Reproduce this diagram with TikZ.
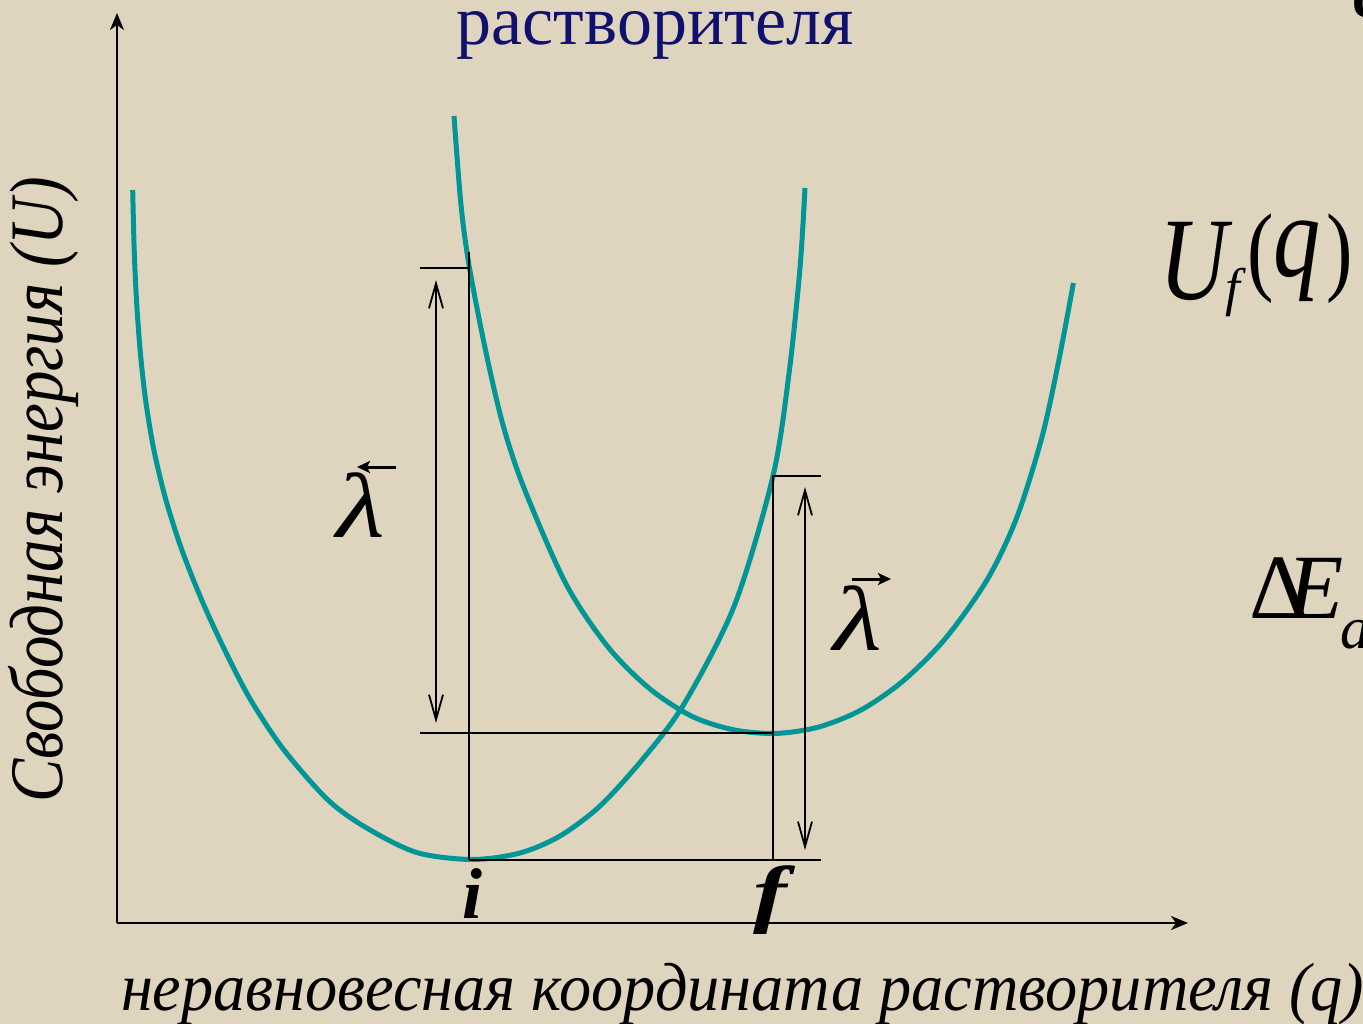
\documentclass[tikz,border=0pt]{standalone}
\usepackage{fontspec}
\setmainfont{Liberation Serif}
\usetikzlibrary{arrows.meta}
\definecolor{bgc}{RGB}{223,213,191}
\definecolor{tealc}{RGB}{0,150,150}
\definecolor{navyc}{RGB}{16,16,110}
\tikzset{
  curve/.style={tealc, line width=5pt},
  guide/.style={black, line width=1.8pt},
  axisarrow/.style={black, line width=2pt, -{Stealth[length=17pt,width=14pt,inset=5pt]}},
  dimarrow/.style={black, line width=1.8pt, {Straight Barb[length=25pt,width=14pt]}-{Straight Barb[length=25pt,width=14pt]}},
  lamarrow/.style={black, line width=3pt, -{Stealth[length=13pt,width=12pt,inset=3pt]}},
  lbl/.style={inner sep=0pt, outer sep=0pt},
}
\begin{document}
\begin{tikzpicture}[x=1pt,y=-1pt]
\fill[bgc] (0,0) rectangle (1363,1024);
\useasboundingbox (0,0) rectangle (1363,1024);

% axes
\coordinate (O) at (117,923);
\coordinate (ytip) at (117,13);
\coordinate (xtip) at (1188,923);
\draw[axisarrow] (O) -- (ytip);
\draw[axisarrow] (O) -- (xtip);

% curves
\draw[curve] plot[smooth, tension=0.5] coordinates {
 (132.7,190) (134.2,250) (136.5,300) (140.1,350) (145.6,400) (153.9,450)
 (165.9,500) (181.9,550) (201.7,600) (224.7,650) (250.7,700) (284,750)
 (328,800) (366.7,828) (416.7,852.5) (472,859.5) (520,853) (560,836)
 (600,806) (642,760) (684,704) (734.6,605) (773,476) (789,373.6)
 (800,268) (805,188)};
\draw[curve] plot[smooth, tension=0.5] coordinates {
 (454,116) (461,205) (469.5,268) (486,352.5) (503,425) (524,488) (566,584)
 (608,647) (650,689) (692.5,716.6) (734.6,730) (776.7,733.4) (818.8,727)
 (861,710) (903,681) (945,639) (987,580) (1016.6,518) (1042,437)
 (1058.7,361) (1073.4,283)};

% guide lines
\coordinate (iTop) at (469,252);
\coordinate (iBot) at (469,860);
\coordinate (tickL) at (420,268);
\coordinate (tickLr) at (469,268);
\coordinate (midL) at (420,733);
\coordinate (fMid) at (773,733);
\coordinate (fTop) at (773,476);
\coordinate (tickR) at (821,476);
\coordinate (botR) at (821,860);
\coordinate (fBot) at (773,860);
\draw[guide] (iTop) -- (iBot);
\draw[guide] (tickL) -- (tickLr);
\draw[guide] (midL) -- (fMid);
\draw[guide] (tickR) -- (fTop) -- (fBot);
\draw[guide] (iBot) -- (botR);

% double arrows
\coordinate (dLa) at (436,280);
\coordinate (dLb) at (436,723);
\coordinate (dRa) at (805,487);
\coordinate (dRb) at (805,850);
\draw[dimarrow] (dLa) -- (dLb);
\draw[dimarrow] (dRa) -- (dRb);

% lambda labels
\node[lbl, anchor=base west] (lamL) at (336,537) {\scalebox{1.22}[1]{\fontsize{92}{92}\selectfont\itshape λ}};
\coordinate (laL1) at (396,467);
\coordinate (laL2) at (357,467);
\draw[lamarrow] (laL1) -- (laL2);
\node[lbl, anchor=base west] (lamR) at (833,650) {\scalebox{1.22}[1]{\fontsize{92}{92}\selectfont\itshape λ}};
\coordinate (laR1) at (852,579);
\coordinate (laR2) at (891,579);
\draw[lamarrow] (laR1) -- (laR2);

% i, f
\node[lbl, anchor=base] (labi) at (472,918) {\fontsize{72}{72}\selectfont\bfseries\itshape i};
\node[lbl, anchor=base] (labf) at (770,918) {\scalebox{1.35}[1]{\fontsize{75}{75}\selectfont\bfseries\itshape f}};

% title fragment
\node[lbl, anchor=base, text=navyc] (title) at (655,45) {\fontsize{70}{70}\selectfont растворителя};

% U_f(q)
\node[lbl, anchor=base west] (ufU) at (1159,300) {\scalebox{0.8}[1]{\fontsize{118}{118}\selectfont\itshape U}};
\node[lbl, anchor=base west] (uff) at (1225,306) {\fontsize{53}{53}\selectfont\itshape f};
\node[lbl, anchor=base west] (ufl) at (1247,283) {\scalebox{0.8}[1]{\fontsize{99}{99}\selectfont (}};
\node[lbl, anchor=base west] (ufq) at (1273,277) {\scalebox{0.8}[1]{\fontsize{118}{118}\selectfont\itshape q}};
\node[lbl, anchor=base west] (ufr) at (1326,283) {\scalebox{0.8}[1]{\fontsize{99}{99}\selectfont )}};

% Delta E_a
\node[lbl, anchor=base west] (dD) at (1249,618) {\fontsize{92}{92}\selectfont Δ};
\node[lbl, anchor=base west] (dE) at (1287,618) {\fontsize{92}{92}\selectfont\itshape E};
\node[lbl, anchor=base west] (da) at (1340,648) {\fontsize{60}{60}\selectfont\itshape a};

% corner fragment
\node[lbl, anchor=base west] (corner) at (1352,18) {\fontsize{60}{60}\selectfont\bfseries с};

% axis labels
\node[lbl, anchor=base, rotate=90] (ylab) at (62,490) {\scalebox{1.03}[1.2]{\fontsize{63}{63}\selectfont\itshape Свободная энергия (U)}};
\node[lbl, anchor=base west] (xlab) at (121,1010) {\scalebox{1}[1.06]{\fontsize{64.3}{64}\selectfont\itshape неравновесная координата растворителя (q)}};
\end{tikzpicture}
\end{document}
